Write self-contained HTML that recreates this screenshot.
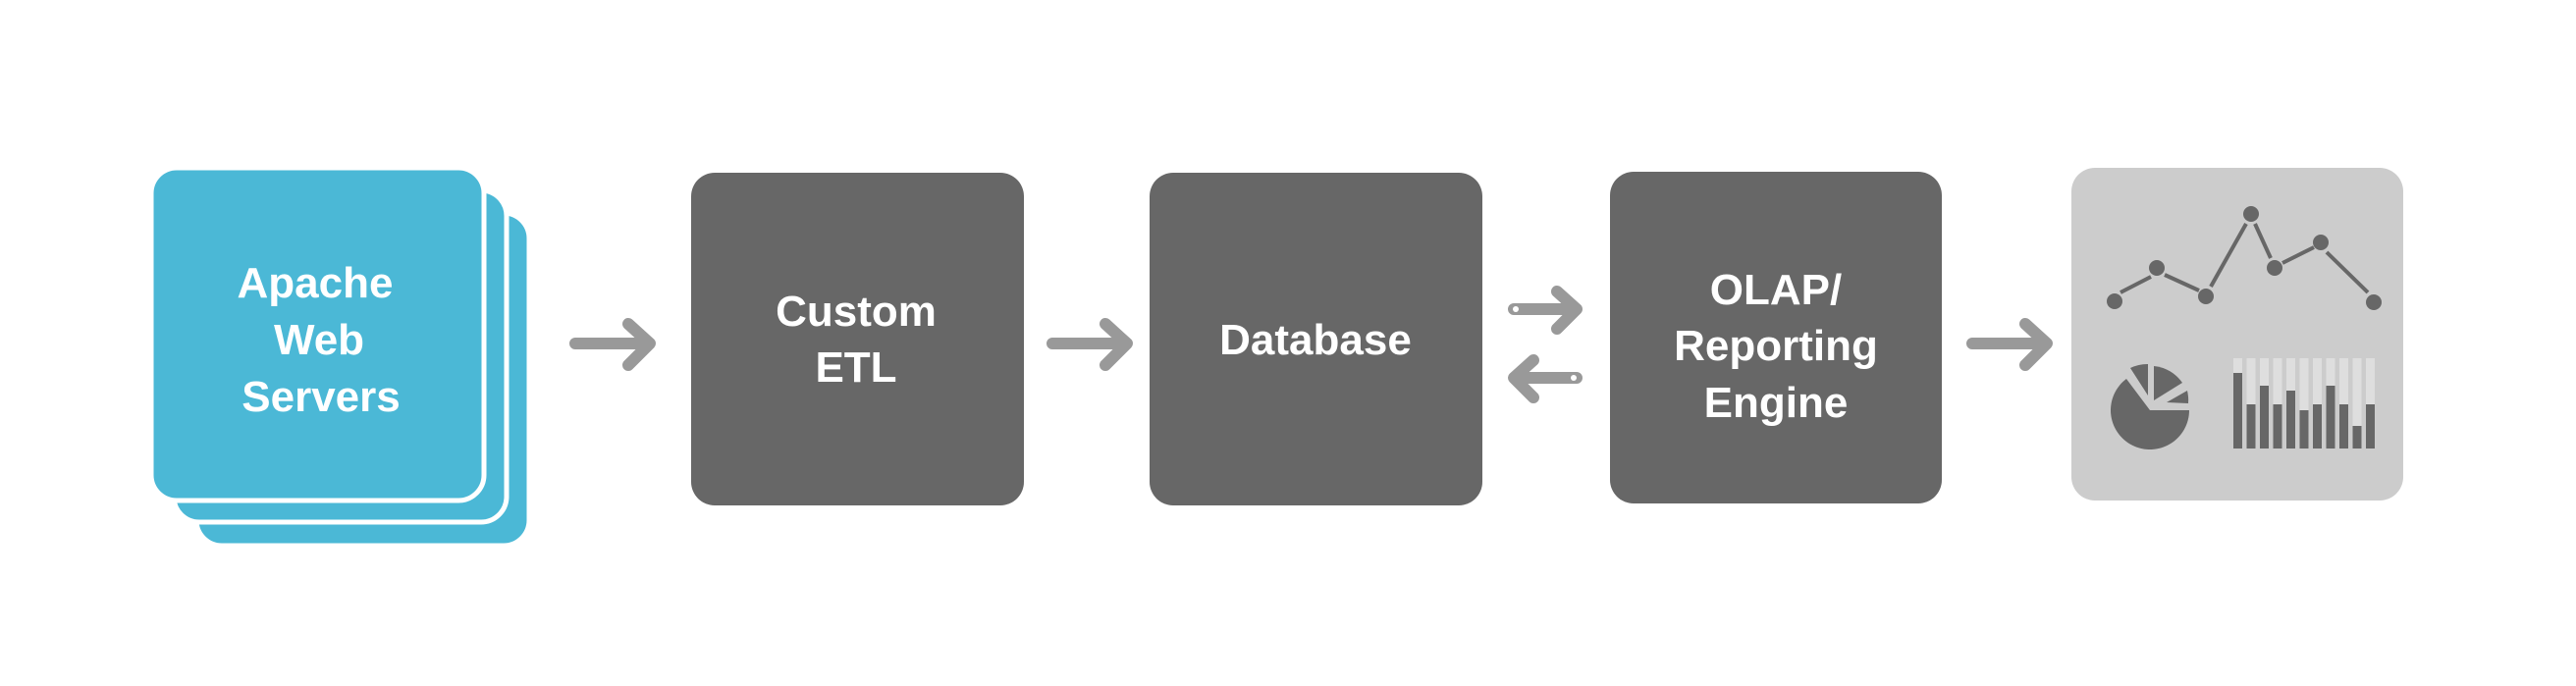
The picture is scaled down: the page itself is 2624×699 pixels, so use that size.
<!DOCTYPE html>
<html><head><meta charset="utf-8"><style>
html,body{margin:0;padding:0;background:#fff}
svg{display:block}
text{font-family:"Liberation Sans",sans-serif;font-weight:bold;font-size:44px;fill:#fff;text-anchor:middle}
</style></head><body>
<svg width="2624" height="699" viewBox="0 0 2624 699" xmlns="http://www.w3.org/2000/svg">
<rect width="2624" height="699" fill="#fff"/>
<!-- stacked cards -->
<rect x="200" y="217" width="339" height="339" rx="26" fill="#4bb8d6" stroke="#fff" stroke-width="5"/>
<rect x="177" y="194" width="339" height="338" rx="26" fill="#4bb8d6" stroke="#fff" stroke-width="5"/>
<rect x="154" y="171" width="339" height="339" rx="26" fill="#4bb8d6" stroke="#fff" stroke-width="5"/>
<text x="321" y="303">Apache</text>
<text x="325" y="361">Web</text>
<text x="327" y="419">Servers</text>
<!-- boxes -->
<rect x="704" y="176" width="339" height="339" rx="24" fill="#676767"/>
<text x="872" y="332">Custom</text>
<text x="872" y="389">ETL</text>
<rect x="1171" y="176" width="339" height="339" rx="24" fill="#676767"/>
<text x="1340" y="361">Database</text>
<rect x="1640" y="175" width="338" height="338" rx="24" fill="#676767"/>
<text x="1809" y="310">OLAP/</text>
<text x="1809" y="367">Reporting</text>
<text x="1809" y="425">Engine</text>
<rect x="2110" y="171" width="338" height="339" rx="24" fill="#cccccc"/>
<!-- arrows -->
<g stroke="#999" stroke-width="12" stroke-linecap="round" stroke-linejoin="round" fill="none">
<path d="M586 350H660M640 330L662 350L640 372"/>
<path d="M1072 350H1146M1126 330L1148 350L1126 372"/>
<path d="M2009 350H2083M2063 330L2085 350L2063 372"/>
<path d="M1542 315H1604M1586 297L1606 315L1586 335"/>
<path d="M1606 385H1544M1562 367L1542 385L1562 405"/>
</g>
<circle cx="1544" cy="315" r="3" fill="#fff"/>
<circle cx="1603" cy="385" r="3" fill="#fff"/>
<!-- line chart -->
<g stroke="#676767" stroke-width="4">
<line x1="2160" y1="298" x2="2191" y2="282"/>
<line x1="2205" y1="280" x2="2240" y2="296"/>
<line x1="2252" y1="292" x2="2288" y2="228"/>
<line x1="2297" y1="228" x2="2313" y2="263"/>
<line x1="2325" y1="268" x2="2357" y2="252"/>
<line x1="2370" y1="257" x2="2412" y2="298"/>
</g>
<g fill="#676767">
<circle cx="2154" cy="307" r="8"/><circle cx="2197" cy="273" r="8"/><circle cx="2247" cy="302" r="8"/>
<circle cx="2293" cy="218" r="8"/><circle cx="2317" cy="273" r="8"/><circle cx="2364" cy="247" r="8"/>
<circle cx="2418" cy="308" r="8"/>
<!-- pie -->
<path d="M2190 418L2230 418A40 40 0 1 1 2166 386Z"/>
<path d="M2188 403L2170 375A40 40 0 0 1 2188 371Z"/>
<path d="M2194 408L2194 373A40 40 0 0 1 2223 390Z"/>
<path d="M2207 410L2228 398A40 40 0 0 1 2229 411Z"/>
</g>
<!-- bars -->
<g>
<rect x="2275" y="365" width="9" height="92" fill="#dedede"/>
<rect x="2288.5" y="365" width="9" height="92" fill="#dedede"/>
<rect x="2302" y="365" width="9" height="92" fill="#dedede"/>
<rect x="2315.5" y="365" width="9" height="92" fill="#dedede"/>
<rect x="2329" y="365" width="9" height="92" fill="#dedede"/>
<rect x="2342.5" y="365" width="9" height="92" fill="#dedede"/>
<rect x="2356" y="365" width="9" height="92" fill="#dedede"/>
<rect x="2369.5" y="365" width="9" height="92" fill="#dedede"/>
<rect x="2383" y="365" width="9" height="92" fill="#dedede"/>
<rect x="2396.5" y="365" width="9" height="92" fill="#dedede"/>
<rect x="2410" y="365" width="9" height="92" fill="#dedede"/>
</g>
<g fill="#676767">
<rect x="2275" y="380" width="9" height="77"/>
<rect x="2288.5" y="412" width="9" height="45"/>
<rect x="2302" y="393" width="9" height="64"/>
<rect x="2315.5" y="412" width="9" height="45"/>
<rect x="2329" y="398" width="9" height="59"/>
<rect x="2342.5" y="418" width="9" height="39"/>
<rect x="2356" y="412" width="9" height="45"/>
<rect x="2369.5" y="393" width="9" height="64"/>
<rect x="2383" y="412" width="9" height="45"/>
<rect x="2396.5" y="434" width="9" height="23"/>
<rect x="2410" y="412" width="9" height="45"/>
</g>
</svg>
</body></html>
